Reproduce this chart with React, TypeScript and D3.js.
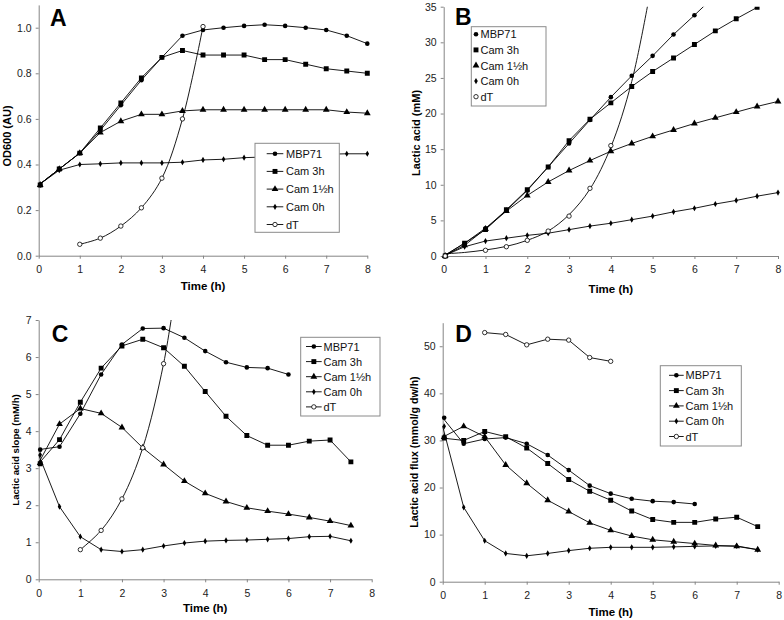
import React, { useEffect, useRef } from "react";
import * as d3 from "d3";

const W = 784;
const H = 620;
const FONT = "'Liberation Sans', Arial, sans-serif";

const seriesNames = ["MBP71", "Cam 3h", "Cam 1½h", "Cam 0h", "dT"];
const seriesSymbols = ["circle", "square", "triangle", "diamond", "open"];

const halfHours = [0, 0.5, 1, 1.5, 2, 2.5, 3, 3.5, 4, 4.5, 5, 5.5, 6, 6.5, 7, 7.5, 8];
const xTicks = [0, 1, 2, 3, 4, 5, 6, 7, 8];

// A: OD600
const mbpA = [0.31, 0.38, 0.45, 0.55, 0.66, 0.77, 0.87, 0.965, 0.99, 1.0, 1.008, 1.013, 1.008, 1.0, 0.99, 0.965, 0.93];
const cam3A = [0.31, 0.38, 0.45, 0.56, 0.67, 0.78, 0.87, 0.9, 0.88, 0.88, 0.88, 0.86, 0.86, 0.84, 0.82, 0.81, 0.8];
const cam15A = [0.31, 0.38, 0.45, 0.54, 0.59, 0.62, 0.62, 0.635, 0.64, 0.64, 0.64, 0.64, 0.64, 0.64, 0.64, 0.63, 0.625];
const cam0A = [0.31, 0.375, 0.4, 0.403, 0.407, 0.407, 0.407, 0.41, 0.42, 0.423, 0.43, 0.433, 0.437, 0.44, 0.445, 0.447, 0.447];
const dtTimeA = [1, 1.5, 2, 2.5, 3, 3.5, 4];
const dtA = [0.05, 0.077, 0.13, 0.21, 0.34, 0.6, 1.005];

// B: lactic acid (mM)
const mbpB = [0, 1.8, 3.9, 6.4, 9.2, 12.5, 15.8, 19.1, 22.3, 25.3, 28.1, 31.1, 33.8];
const mbpTrendTimeB = [6, 6.5];
const mbpTrendB = [33.8, 36.6];
const cam3B = [0, 1.8, 3.7, 6.5, 9.3, 12.5, 16.2, 19.2, 21.5, 23.8, 25.9, 27.8, 29.7, 31.6, 33.3, 34.9];
const cam15B = [0, 1.5, 3.8, 6.3, 8.5, 10.4, 12.0, 13.4, 14.7, 15.8, 16.8, 17.7, 18.6, 19.4, 20.2, 21.0, 21.7];
const cam0B = [0, 1.3, 2.1, 2.5, 2.9, 3.2, 3.7, 4.2, 4.6, 5.1, 5.6, 6.2, 6.7, 7.3, 7.8, 8.4, 8.9];
const dtTimeB = [0, 1, 1.5, 2, 2.5, 3, 3.5, 4];
const dtB = [0, 0.8, 1.3, 2.2, 3.5, 5.6, 9.5, 15.5];
const dtTrendTimeB = [0, 0.5, 1, 1.5, 2, 2.5, 3, 3.5, 4, 4.5, 5];
const dtTrendB = [0.3, 0.5, 0.85, 1.35, 2.2, 3.5, 5.8, 9.4, 15.3, 24.5, 39];

// C: lactic acid slope (mM/h)
const mbpC = [3.5, 3.58, 4.47, 5.53, 6.34, 6.77, 6.78, 6.52, 6.16, 5.86, 5.72, 5.7, 5.53];
const cam3C = [3.12, 3.77, 4.78, 5.7, 6.3, 6.48, 6.25, 5.75, 5.07, 4.4, 3.88, 3.62, 3.62, 3.73, 3.76, 3.17];
const cam15C = [3.14, 4.19, 4.61, 4.48, 4.1, 3.55, 3.1, 2.65, 2.32, 2.1, 1.93, 1.84, 1.76, 1.67, 1.57, 1.45];
const cam0C = [3.36, 1.96, 1.15, 0.8, 0.75, 0.8, 0.9, 0.98, 1.03, 1.05, 1.06, 1.08, 1.1, 1.15, 1.16, 1.04];
const dtTimeC = [1, 1.5, 2, 2.5, 3];
const dtC = [0.8, 1.32, 2.17, 3.55, 5.82];
const dtTrendTimeC = [1, 1.5, 2, 2.5, 3, 3.3];
const dtTrendC = [0.8, 1.32, 2.17, 3.55, 5.82, 7.9];

// D: lactic acid flux (mmol/g dw/h)
const mbpD = [34.8, 29.3, 30.3, 30.6, 29.3, 26.9, 23.7, 20.4, 18.7, 17.6, 17.1, 16.9, 16.5];
const cam3D = [30.5, 30.0, 31.9, 30.8, 28.4, 25.1, 21.7, 19.2, 17.3, 15.0, 13.2, 12.6, 12.6, 13.3, 13.7, 11.7];
const cam15D = [30.7, 33.0, 30.8, 24.8, 20.9, 17.3, 14.9, 12.5, 10.9, 9.7, 8.9, 8.5, 8.1, 7.7, 7.5, 6.8];
const cam0D = [33.0, 15.8, 8.7, 6.0, 5.5, 6.0, 6.6, 7.1, 7.3, 7.3, 7.3, 7.4, 7.5, 7.6, 7.6, 6.8];
const dtTimeD = [1, 1.5, 2, 2.5, 3, 3.5, 4];
const dtD = [52.9, 52.5, 50.3, 51.5, 51.3, 47.6, 46.8];

const zip = (xs, ys) => ys.map((y, i) => [xs[i], y]);

const panels = [
  {
    id: "A", letter: [50, 26], left: 38.7, right: 367.3, top: 4.9, bottom: 255.7,
    yMax: 1.1, yTicks: [0, 0.2, 0.4, 0.6, 0.8, 1.0], yFmt: d3.format(".1f"),
    yLabel: "OD600 (AU)", yLabelPos: [11, 136], yLabelSize: 11, xLabelY: 290,
    legend: { x: 255, y: 143.3, w: 84.3, h: 89, row0: 153.7, rowH: 17.7, lx0: 266.7, lx1: 283.3, tx: 286, lines: true },
    series: [
      { pts: zip(halfHours, mbpA) },
      { pts: zip(halfHours, cam3A) },
      { pts: zip(halfHours, cam15A) },
      { pts: zip(halfHours, cam0A) },
      { pts: zip(dtTimeA, dtA), smooth: true },
    ],
  },
  {
    id: "B", letter: [455, 25], left: 443.7, right: 778, top: 6.7, bottom: 256,
    yMax: 35, yTicks: [0, 5, 10, 15, 20, 25, 30, 35], yFmt: d3.format("d"),
    yLabel: "Lactic acid (mM)", yLabelPos: [420, 133], yLabelSize: 11, xLabelY: 293,
    legend: { x: 471.3, y: 26.7, w: 74.7, h: 79.3, row0: 34.3, rowH: 15.6, lx0: 476, lx1: 476, tx: 480.5, lines: false },
    series: [
      { pts: zip(halfHours, mbpB), trend: zip(mbpTrendTimeB, mbpTrendB) },
      { pts: zip(halfHours, cam3B) },
      { pts: zip(halfHours, cam15B) },
      { pts: zip(halfHours, cam0B) },
      { pts: zip(dtTimeB, dtB), noLine: true, trend: zip(dtTrendTimeB, dtTrendB), smooth: true },
    ],
  },
  {
    id: "C", letter: [51.7, 341.7], left: 38.7, right: 371.7, top: 320, bottom: 579.3,
    yMax: 7, yTicks: [0, 1, 2, 3, 4, 5, 6, 7], yFmt: d3.format("d"),
    yLabel: "Lactic acid slope (mM/h)", yLabelPos: [19, 450], yLabelSize: 9.6, xLabelY: 612,
    legend: { x: 300.7, y: 337.3, w: 79.3, h: 78.7, row0: 346.5, rowH: 15.1, lx0: 306, lx1: 321.7, tx: 323.5, lines: true },
    series: [
      { pts: zip(halfHours, mbpC) },
      { pts: zip(halfHours, cam3C) },
      { pts: zip(halfHours, cam15C) },
      { pts: zip(halfHours, cam0C) },
      { pts: zip(dtTimeC, dtC), noLine: true, trend: zip(dtTrendTimeC, dtTrendC), smooth: true },
    ],
  },
  {
    id: "D", letter: [455.3, 341.7], left: 442.7, right: 778.7, top: 322.7, bottom: 581.7,
    yMax: 55, yTicks: [0, 10, 20, 30, 40, 50], yFmt: d3.format("d"),
    yLabel: "Lactic acid flux (mmol/g dw/h)", yLabelPos: [418, 452], yLabelSize: 10.6, xLabelY: 616,
    legend: { x: 660.3, y: 365.7, w: 81, h: 80.3, row0: 375.3, rowH: 15.3, lx0: 669, lx1: 683.7, tx: 685.5, lines: true },
    series: [
      { pts: zip(halfHours, mbpD) },
      { pts: zip(halfHours, cam3D) },
      { pts: zip(halfHours, cam15D) },
      { pts: zip(halfHours, cam0D) },
      { pts: zip(dtTimeD, dtD) },
    ],
  },
];

function drawMarker(g, kind, x, y) {
  if (kind === "circle") {
    g.append("circle").attr("cx", x).attr("cy", y).attr("r", 2.3).attr("fill", "#000");
  } else if (kind === "open") {
    g.append("circle").attr("cx", x).attr("cy", y).attr("r", 2.2)
      .attr("fill", "#fff").attr("stroke", "#000").attr("stroke-width", 0.8);
  } else {
    const type = kind === "square" ? d3.symbolSquare : kind === "triangle" ? d3.symbolTriangle : d3.symbolDiamond;
    const size = kind === "square" ? 24 : kind === "triangle" ? 20 : 11;
    g.append("path")
      .attr("d", d3.symbol().type(type).size(size))
      .attr("transform", `translate(${x},${y})`)
      .attr("fill", "#000");
  }
}

const App = () => {
  const svgRef = useRef(null);

  useEffect(() => {
    const svg = d3.select(svgRef.current);
    svg.selectAll("*").remove();

    panels.forEach((p) => {
      const xScale = d3.scaleLinear().domain([0, 8]).range([p.left, p.right]);
      const yScale = d3.scaleLinear().domain([0, p.yMax]).range([p.bottom, p.top]);
      const g = svg.append("g");

      // clip so trend lines stop at the plot edge
      const clipId = `clip-${p.id}`;
      svg.append("clipPath").attr("id", clipId)
        .append("rect")
        .attr("x", p.left - 5).attr("y", p.top)
        .attr("width", p.right - p.left + 10).attr("height", p.bottom - p.top + 5);

      // axes
      const xAxis = d3.axisBottom(xScale).tickValues(xTicks).tickSize(3).tickSizeOuter(0).tickPadding(7);
      const xg = g.append("g").attr("transform", `translate(0,${p.bottom})`).call(xAxis);
      const yAxis = d3.axisLeft(yScale).tickValues(p.yTicks).tickFormat(p.yFmt).tickSize(3).tickSizeOuter(0).tickPadding(4);
      const yg = g.append("g").attr("transform", `translate(${p.left},0)`).call(yAxis);
      [xg, yg].forEach((a) => {
        a.select(".domain").attr("stroke", "#858585").attr("stroke-width", 1);
        a.selectAll(".tick line").attr("stroke", "#858585");
        a.selectAll("text").attr("font-family", FONT).attr("font-size", 10.5).attr("fill", "#222");
      });

      const plot = g.append("g").attr("clip-path", `url(#${clipId})`);
      p.series.forEach((s) => {
        const line = d3.line()
          .x((d) => xScale(d[0]))
          .y((d) => yScale(d[1]))
          .curve(s.smooth ? d3.curveCatmullRom : d3.curveLinear);
        if (!s.noLine) {
          plot.append("path").attr("d", line(s.pts)).attr("fill", "none")
            .attr("stroke", "#000").attr("stroke-width", 0.9);
        }
        if (s.trend) {
          plot.append("path").attr("d", line(s.trend)).attr("fill", "none")
            .attr("stroke", "#000").attr("stroke-width", 0.9);
        }
      });
      p.series.forEach((s, i) => {
        s.pts.forEach((d) => drawMarker(plot, seriesSymbols[i], xScale(d[0]) + (d[0] === 0 ? 1.5 : 0), yScale(d[1])));
      });

      // legend
      const L = p.legend;
      const lg = g.append("g");
      lg.append("rect").attr("x", L.x).attr("y", L.y).attr("width", L.w).attr("height", L.h)
        .attr("fill", "#fff").attr("stroke", "#8a8a8a").attr("stroke-width", 1);
      seriesNames.forEach((name, i) => {
        const ry = L.row0 + i * L.rowH;
        if (L.lines) {
          lg.append("line").attr("x1", L.lx0).attr("x2", L.lx1).attr("y1", ry).attr("y2", ry)
            .attr("stroke", "#000").attr("stroke-width", 0.9);
        }
        drawMarker(lg, seriesSymbols[i], (L.lx0 + L.lx1) / 2, ry);
        lg.append("text").attr("x", L.tx).attr("y", ry + 4)
          .attr("font-family", FONT).attr("font-size", 11).attr("fill", "#111").text(name);
      });

      // titles
      g.append("text").attr("x", (p.left + p.right) / 2).attr("y", p.xLabelY)
        .attr("text-anchor", "middle").attr("font-family", FONT).attr("font-weight", "bold")
        .attr("font-size", 11.5).text("Time (h)");
      g.append("text")
        .attr("transform", `translate(${p.yLabelPos[0]},${p.yLabelPos[1]}) rotate(-90)`)
        .attr("text-anchor", "middle").attr("font-family", FONT).attr("font-weight", "bold")
        .attr("font-size", p.yLabelSize).text(p.yLabel);
      g.append("text").attr("x", p.letter[0]).attr("y", p.letter[1])
        .attr("font-family", FONT).attr("font-weight", "bold").attr("font-size", 23).text(p.id);
    });
  }, []);

  return (
    <svg ref={svgRef} width={W} height={H}
      style={{ position: "absolute", left: 0, top: 0, background: "#fff" }} />
  );
};

export default App;
